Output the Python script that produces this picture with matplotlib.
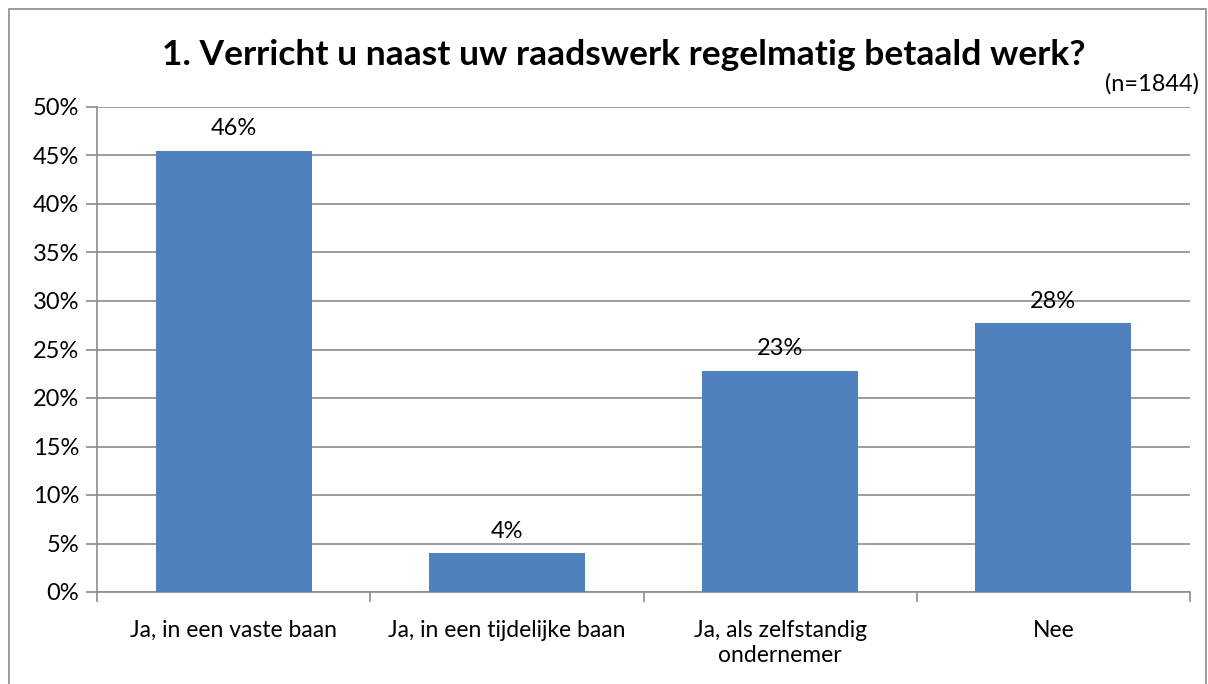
import matplotlib.pyplot as plt
from matplotlib.patches import Rectangle

categories = ["Ja, in een vaste baan", "Ja, in een tijdelijke baan",
              "Ja, als zelfstandig\nondernemer", "Nee"]
values = [45.5, 4.0, 22.8, 27.7]
labels = ["46%", "4%", "23%", "28%"]
yticks = [0, 5, 10, 15, 20, 25, 30, 35, 40, 45, 50]

plt.rcParams['font.family'] = ['Lato', 'DejaVu Sans']

fig = plt.figure(figsize=(12.08, 6.84), dpi=100)
# outer chart border
fig.patches.append(Rectangle((9 / 1208, -0.01), 1197 / 1208, 1 - 9 / 684 + 0.01,
                             transform=fig.transFigure, fill=False,
                             edgecolor='#8c8c8c', linewidth=1.2))

ax = fig.add_axes([97 / 1208, 1 - 592 / 684, (1190 - 97) / 1208, (592 - 107) / 684])
x = range(len(categories))
ax.bar(x, values, width=0.57, color='#4F81BD', zorder=3)
for i, (v, lab) in enumerate(zip(values, labels)):
    ax.text(i, v + 1.2, lab, ha='center', va='bottom', fontsize=17)

ax.set_xlim(-0.5, len(categories) - 0.5)
ax.set_ylim(0, 50)
ax.set_yticks(yticks)
ax.set_yticklabels([f"{t}%" for t in yticks], fontsize=17)
ax.yaxis.grid(True, color='#8c8c8c', linewidth=1.2, zorder=0)
ax.tick_params(axis='y', length=8, color='#8c8c8c', width=1.2, pad=5)

ax.set_xticks(x)
ax.set_xticklabels(categories, fontsize=16.5, linespacing=1.25)
ax.tick_params(axis='x', length=0, pad=20)
ax.set_xticks([i + 0.5 for i in range(-1, len(categories))], minor=True)
ax.tick_params(axis='x', which='minor', length=7, color='#8c8c8c', width=1.2)

for s in ['top', 'right']:
    ax.spines[s].set_visible(False)
for s in ['left', 'bottom']:
    ax.spines[s].set_color('#8c8c8c')
    ax.spines[s].set_linewidth(1.2)

fig.text(624 / 1208, 1 - 55 / 684, "1. Verricht u naast uw raadswerk regelmatig betaald werk?",
         ha='center', va='center', fontsize=25.5, fontweight='bold')
fig.text(1199 / 1208, 1 - 84 / 684, "(n=1844)", ha='right', va='center', fontsize=17)

fig.savefig("out.png", dpi=100)
